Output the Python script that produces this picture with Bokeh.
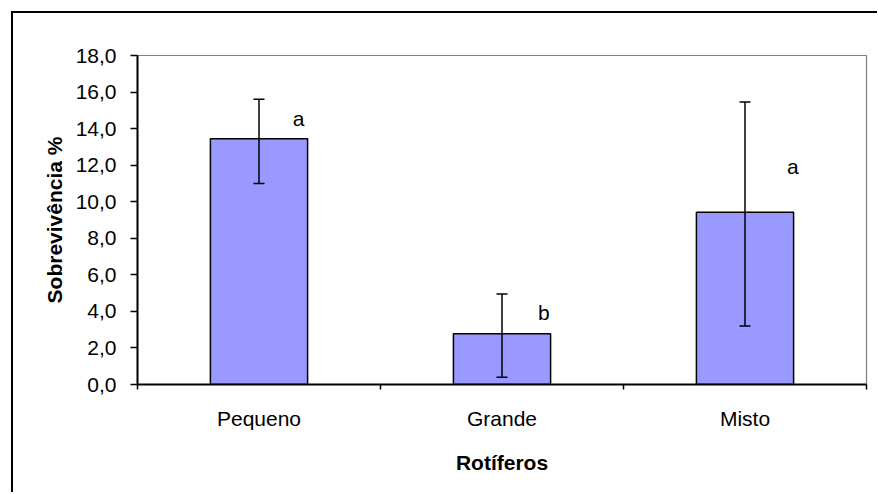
from bokeh.plotting import figure
from bokeh.models import ColumnDataSource, Range1d, FixedTicker, Whisker, TeeHead
from bokeh.core.properties import value
from bokeh.embed import file_html
from bokeh.resources import INLINE

# ---- data ----
categories = ["Pequeno", "Grande", "Misto"]
cat_pos = [0.5, 1.5, 2.5]
survival = [13.45, 2.78, 9.42]
err_upper = [15.6, 4.95, 15.45]
err_lower = [11.0, 0.4, 3.2]
letters = ["a", "b", "a"]
letter_x = [0.663, 1.672, 2.697]
letter_y = [14.55, 3.95, 11.9]
y_ticks = [0, 2, 4, 6, 8, 10, 12, 14, 16, 18]
y_tick_labels = ["0,0", "2,0", "4,0", "6,0", "8,0", "10,0", "12,0", "14,0", "16,0", "18,0"]
boundaries = [0, 1, 2, 3]

FONT = "Liberation Sans"
W, H = 866, 481
OX, OY = 13, 13  # canvas origin on the page (margin + border)

p = figure(width=W, height=H, output_backend="svg", toolbar_location=None,
           x_range=Range1d(0, 3), y_range=Range1d(0, 18),
           min_border_left=137 - OX, min_border_top=55 - OY,
           min_border_right=OX + W - 866, min_border_bottom=OY + H - 384)
p.margin = (11, 0, 0, 11)
p.styles = {"border-left": "2px solid black", "border-top": "2px solid black"}
p.background_fill_color = "white"
p.border_fill_color = "white"
p.outline_line_color = "#808080"
p.outline_line_width = 1.2
p.xgrid.visible = False
p.ygrid.visible = False

src = ColumnDataSource(dict(x=cat_pos, top=survival, upper=err_upper, lower=err_lower))
p.vbar(x="x", top="top", bottom=0, width=0.4, source=src,
       fill_color="#9999FF", line_color="black", line_width=1.5)

wh = Whisker(base="x", upper="upper", lower="lower", source=src, level="overlay",
             line_color="black", line_width=1.5,
             upper_head=TeeHead(size=11, line_color="black", line_width=1.5),
             lower_head=TeeHead(size=11, line_color="black", line_width=1.5))
p.add_layout(wh)

lsrc = ColumnDataSource(dict(x=letter_x, y=letter_y, t=letters))
p.text(x="x", y="y", text="t", source=lsrc, text_font=value(FONT),
       text_font_size="21px", text_align="center", text_baseline="alphabetic",
       text_color="black")

# x axis
xa = p.xaxis[0]
xa.ticker = FixedTicker(ticks=cat_pos, minor_ticks=boundaries)
xa.major_label_overrides = {x: c for x, c in zip(cat_pos, categories)}
xa.major_tick_out = 0
xa.major_tick_in = 0
xa.minor_tick_out = 5
xa.minor_tick_in = 0
xa.minor_tick_line_color = "black"
xa.minor_tick_line_width = 1.5
xa.axis_line_color = "black"
xa.axis_line_width = 2
xa.major_label_text_font = FONT
xa.major_label_text_font_size = "21px"
xa.major_label_text_color = "black"
xa.major_label_standoff = 17
xa.axis_label = "Rotíferos"
xa.axis_label_text_font = FONT
xa.axis_label_text_font_size = "21px"
xa.axis_label_text_font_style = "bold"
xa.axis_label_text_color = "black"
xa.axis_label_standoff = 18

# y axis
ya = p.yaxis[0]
ya.ticker = FixedTicker(ticks=y_ticks)
ya.major_label_overrides = {t: l for t, l in zip(y_ticks, y_tick_labels)}
ya.major_tick_out = 7
ya.major_tick_in = 0
ya.major_tick_line_width = 1.5
ya.major_tick_line_color = "black"
ya.minor_tick_line_color = None
ya.axis_line_color = "black"
ya.axis_line_width = 2
ya.major_label_text_font = FONT
ya.major_label_text_font_size = "21px"
ya.major_label_text_color = "black"
ya.major_label_standoff = 14
ya.axis_label = "Sobrevivência %"
ya.axis_label_text_font = FONT
ya.axis_label_text_font_size = "21px"
ya.axis_label_text_font_style = "bold"
ya.axis_label_text_color = "black"
ya.axis_label_standoff = 7

open("out.html", "w").write(file_html(p, INLINE))
